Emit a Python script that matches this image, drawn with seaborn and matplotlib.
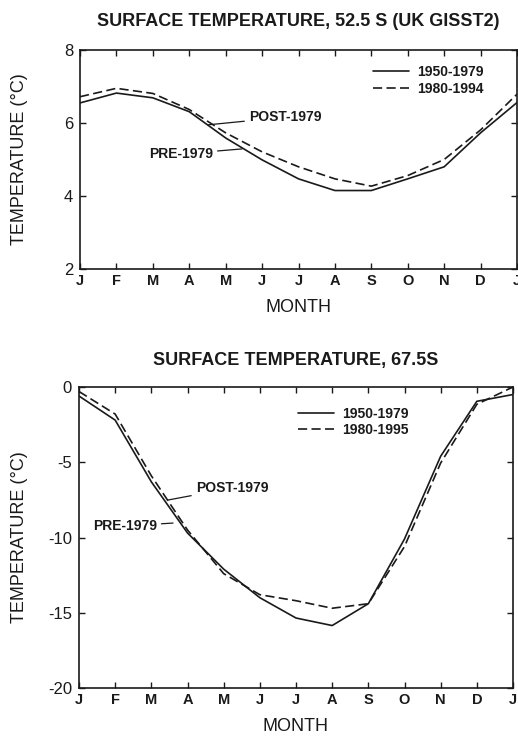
import numpy as np
import pandas as pd
import matplotlib
matplotlib.use("Agg")
import matplotlib.pyplot as plt
import seaborn as sns

# month axis (Jan .. Jan of the next year)
months = ["J", "F", "M", "A", "M", "J", "J", "A", "S", "O", "N", "D", "J"]
month_idx = list(range(len(months)))

# 52.5 S (UK GISST2)
temp_52_pre = [6.55, 6.82, 6.69, 6.31, 5.59, 4.99, 4.47, 4.15, 4.15, 4.47, 4.80, 5.73, 6.56]
temp_52_post = [6.72, 6.95, 6.81, 6.37, 5.73, 5.21, 4.80, 4.47, 4.27, 4.56, 5.00, 5.81, 6.79]

# 67.5 S
temp_67_pre = [-0.6, -2.2, -6.3, -9.7, -12.1, -14.0, -15.35, -15.85, -14.4, -10.1, -4.6, -0.95, -0.5]
temp_67_post = [-0.3, -1.8, -5.9, -9.5, -12.4, -13.8, -14.2, -14.7, -14.4, -10.6, -5.05, -1.15, 0.0]

sns.set_theme(style="ticks")
plt.rcParams["font.family"] = ["Liberation Sans", "DejaVu Sans"]
plt.rcParams["text.color"] = "k"
plt.rcParams["axes.labelcolor"] = "k"

fig = plt.figure(figsize=(5.18, 7.36), dpi=100)
ax1 = fig.add_axes([80 / 518, 1 - 269 / 736, 437 / 518, 219 / 736])
ax2 = fig.add_axes([79 / 518, 1 - 688 / 736, 434 / 518, 301 / 736])

dash = (0, (5.5, 2.6))


def draw_panel(ax, pre, post, post_label, title, title_y, ylim, yticks):
    df = pd.DataFrame({"month": month_idx, "pre": pre, "post": post})
    sns.lineplot(data=df, x="month", y="pre", color="k", lw=1.2,
                 label="1950-1979", ax=ax)
    sns.lineplot(data=df, x="month", y="post", color="k", lw=1.2,
                 linestyle=dash, label=post_label, ax=ax)
    ax.set_xlim(0, 12)
    ax.set_ylim(*ylim)
    ax.set_xticks(month_idx)
    ax.set_xticklabels(months, fontweight="bold", fontsize=10.5)
    ax.set_yticks(yticks)
    ax.set_yticklabels([str(v) for v in yticks], fontsize=12)
    ax.tick_params(direction="in", length=4, width=1, top=True, right=True,
                   colors="k")
    ax.tick_params(axis="x", pad=3.5)
    ax.tick_params(axis="y", pad=5)
    for s in ax.spines.values():
        s.set_linewidth(1.2)
        s.set_color("k")
    ax.set_xlabel("MONTH", fontsize=13)
    ax.set_ylabel("TEMPERATURE (\u00b0C)", fontsize=13)
    ax.set_title(title, fontsize=13, fontweight="bold", y=title_y,
                 va="center", pad=0, color="k")


draw_panel(ax1, temp_52_pre, temp_52_post, "1980-1994",
           "SURFACE TEMPERATURE, 52.5 S (UK GISST2)", 1 + 28 / 219,
           (2, 8), [2, 4, 6, 8])
draw_panel(ax2, temp_67_pre, temp_67_post, "1980-1995",
           "SURFACE TEMPERATURE, 67.5S", 1 + 27 / 301,
           (-20, 0), [-20, -15, -10, -5, 0])

# label placement
ax1.yaxis.set_label_coords(-52 / 437, 0.5)
ax2.yaxis.set_label_coords(-51 / 434, 0.5)
ax1.xaxis.set_label_coords(0.5, -30 / 219)
ax2.xaxis.set_label_coords(0.5, -30 / 301)

# legends
for ax, anchor in [(ax1, (0.67, 0.93)), (ax2, (0.505, 0.935))]:
    ax.legend(loc="upper left", bbox_to_anchor=anchor, frameon=False,
              borderpad=0, borderaxespad=0, handlelength=2.6,
              handletextpad=0.6, labelspacing=0.2,
              prop={"size": 10, "weight": "bold"})

# period labels with leader lines
arrow = dict(arrowstyle="-", color="k", lw=0.9, shrinkA=1, shrinkB=0)
ax1.annotate("POST-1979", xy=(3.52, 5.95), xytext=(4.64, 6.16),
             fontsize=10, fontweight="bold", ha="left", va="center",
             arrowprops=arrow)
ax1.annotate("PRE-1979", xy=(4.45, 5.29), xytext=(3.65, 5.15),
             fontsize=10, fontweight="bold", ha="right", va="center",
             arrowprops=arrow)
ax2.annotate("POST-1979", xy=(2.46, -7.51), xytext=(3.23, -6.71),
             fontsize=10, fontweight="bold", ha="left", va="center",
             arrowprops=arrow)
ax2.annotate("PRE-1979", xy=(2.6, -9.04), xytext=(2.15, -9.24),
             fontsize=10, fontweight="bold", ha="right", va="center",
             arrowprops=arrow)

fig.savefig("out.png", dpi=100)
